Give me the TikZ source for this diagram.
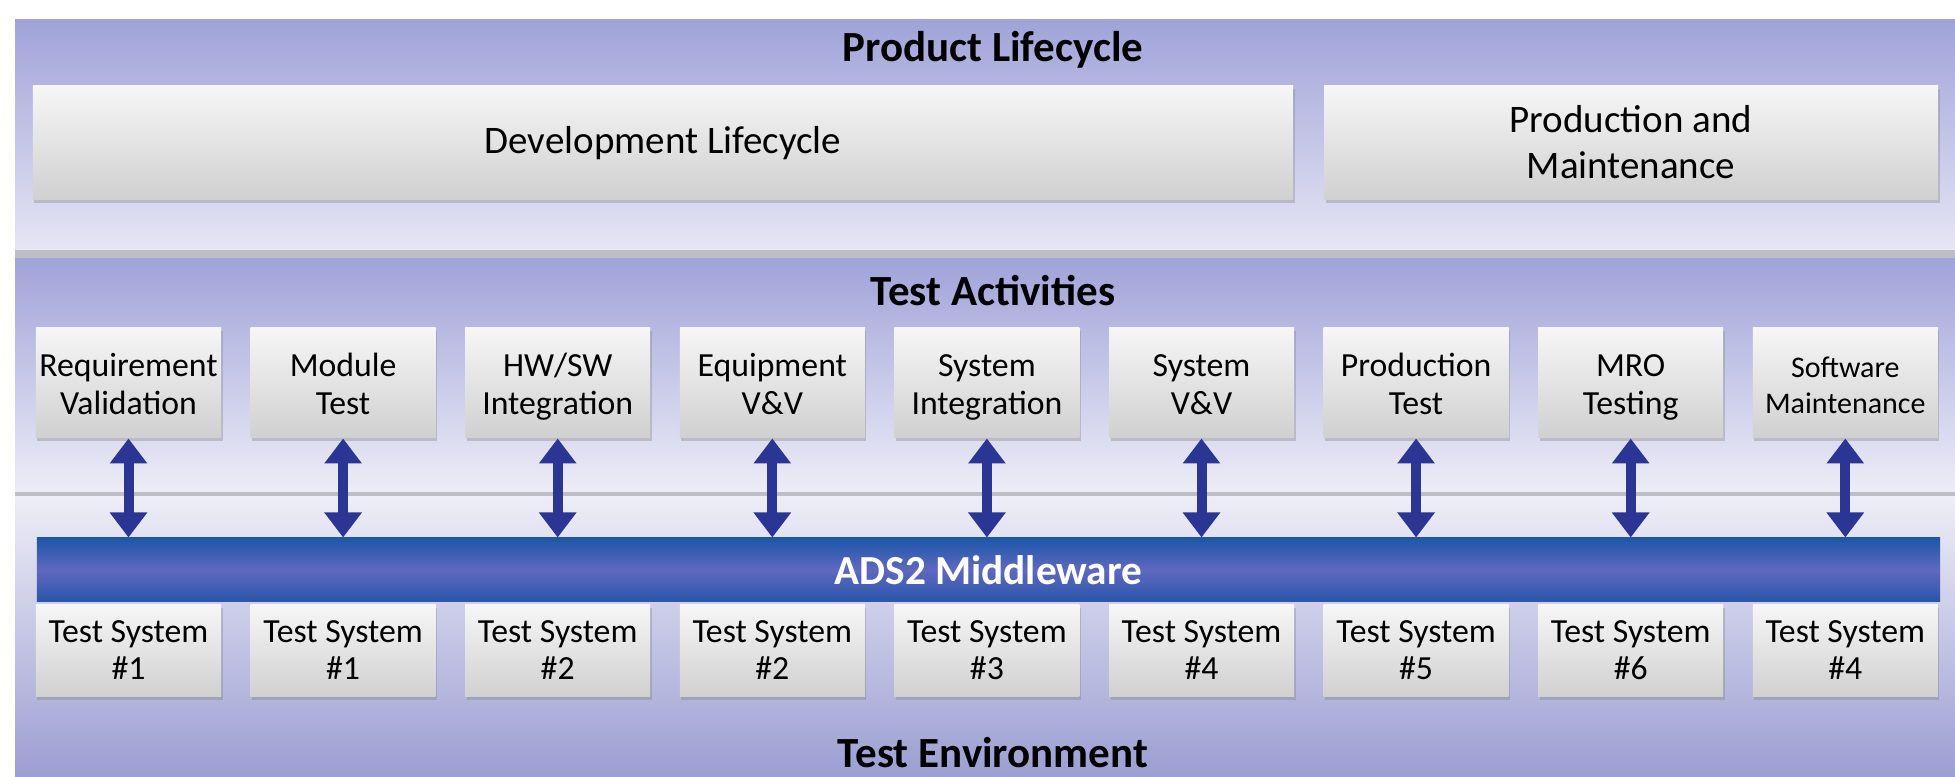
\documentclass[tikz,border=0pt]{standalone}
\usepackage{fontspec}
\setmainfont{Carlito}
\usetikzlibrary{arrows.meta,shadows}
\definecolor{panelTop}{HTML}{A0A3D8}
\definecolor{panelLight}{HTML}{E6E6F4}
\definecolor{sepGray}{HTML}{BEBEC7}
\definecolor{boxT}{HTML}{F6F6F6}
\definecolor{boxB}{HTML}{D0D0D0}
\definecolor{arrowblue}{HTML}{2B3593}
\definecolor{barT}{HTML}{1E57A8}
\definecolor{barM}{HTML}{5E68BE}
\definecolor{barB}{HTML}{2756AA}
% two-line label: first line, second line, extra depth under the second line
\newcommand\twolines[3]{#1\strut\\\smash{#2}\rule[-#3]{0pt}{#3}}
\tikzset{
  box/.style={rectangle, inner sep=0pt, top color=boxT, bottom color=boxB, draw=none,
    drop shadow={shadow xshift=0.6pt, shadow yshift=-1.3pt, opacity=0.35},
    align=center, font=\fontsize{13.5pt}{15pt}\selectfont},
  act/.style={box, minimum width=74pt, minimum height=44pt},
  tsys/.style={box, minimum width=74pt, minimum height=36.8pt},
  big/.style={box, minimum height=45.6pt, font=\fontsize{15.6pt}{18.4pt}\selectfont},
  paneltitle/.style={inner sep=0pt, font=\fontsize{17.2pt}{20pt}\selectfont\bfseries},
  bar/.style={rectangle, inner sep=0pt, top color=barT, bottom color=barB, middle color=barM,
    minimum width=761.2pt, minimum height=25.6pt, text=white,
    font=\fontsize{16.5pt}{19pt}\selectfont\bfseries},
  biarrow/.style={line width=4pt, draw=arrowblue,
    {Triangle[width=14.4pt,length=10pt]}-{Triangle[width=14.4pt,length=10pt]}},
}
\begin{document}
\begin{tikzpicture}[x=0.4pt,y=-0.4pt]
\useasboundingbox (0,0) rectangle (1955,777);
\fill[white] (0,0) rectangle (1955,777);
% panels
\shade[top color=panelTop, bottom color=panelLight] (15,20) rectangle (1955,251);
\fill[sepGray] (15,250) rectangle (1955,259);
\shade[top color=panelTop, bottom color=panelLight!70!white] (15,259) rectangle (1955,493);
\fill[sepGray] (15,492) rectangle (1955,497);
\shade[top color=panelLight!70!white, bottom color=panelTop!97!black] (15,497) rectangle (1955,777);

% titles
\node[paneltitle] (tPL) at (993,50) {Product Lifecycle};
\node[paneltitle] (tTA) at (993,291) {Test Activities};
\node[paneltitle] (tTE) at (993,753) {Test Environment};

% lifecycle boxes
\node[big, minimum width=504pt] (dev) at (663,143) {Development Lifecycle};
\node[big, minimum width=245.6pt] (prod) at (1631,143) {\twolines{Production and}{Maintenance}{3pt}};

% activities
\node[act] (a1) at (128.5,383) {\twolines{Requirement}{Validation}{0.5pt}};
\node[act] (a2) at (343.1,383) {\twolines{Module}{Test}{0.5pt}};
\node[act] (a3) at (557.7,383) {\twolines{HW/SW}{Integration}{0.5pt}};
\node[act] (a4) at (772.3,383) {\twolines{Equipment}{V\&V}{0.5pt}};
\node[act] (a5) at (986.9,383) {\twolines{System}{Integration}{0.5pt}};
\node[act] (a6) at (1201.5,383) {\twolines{System}{V\&V}{0.5pt}};
\node[act] (a7) at (1416.1,383) {\twolines{Production}{Test}{0.5pt}};
\node[act] (a8) at (1630.7,383) {\twolines{MRO}{Testing}{0.5pt}};
\node[act, font=\fontsize{12pt}{14.5pt}\selectfont] (a9) at (1845.3,383) {\twolines{Software}{Maintenance}{0.4pt}};

% middleware bar
\node[bar] (bar) at (988.5,570) {ADS2 Middleware};

% test systems
\node[tsys] (t1) at (128.5,651) {\twolines{Test System}{\#1}{2.5pt}};
\node[tsys] (t2) at (343.1,651) {\twolines{Test System}{\#1}{2.5pt}};
\node[tsys] (t3) at (557.7,651) {\twolines{Test System}{\#2}{2.5pt}};
\node[tsys] (t4) at (772.3,651) {\twolines{Test System}{\#2}{2.5pt}};
\node[tsys] (t5) at (986.9,651) {\twolines{Test System}{\#3}{2.5pt}};
\node[tsys] (t6) at (1201.5,651) {\twolines{Test System}{\#4}{2.5pt}};
\node[tsys] (t7) at (1416.1,651) {\twolines{Test System}{\#5}{2.5pt}};
\node[tsys] (t8) at (1630.7,651) {\twolines{Test System}{\#6}{2.5pt}};
\node[tsys] (t9) at (1845.3,651) {\twolines{Test System}{\#4}{2.5pt}};

% arrows
\foreach \i in {1,...,9}{
  \draw[biarrow] (a\i.south) -- (a\i.south |- bar.north);
}
\end{tikzpicture}
\end{document}
